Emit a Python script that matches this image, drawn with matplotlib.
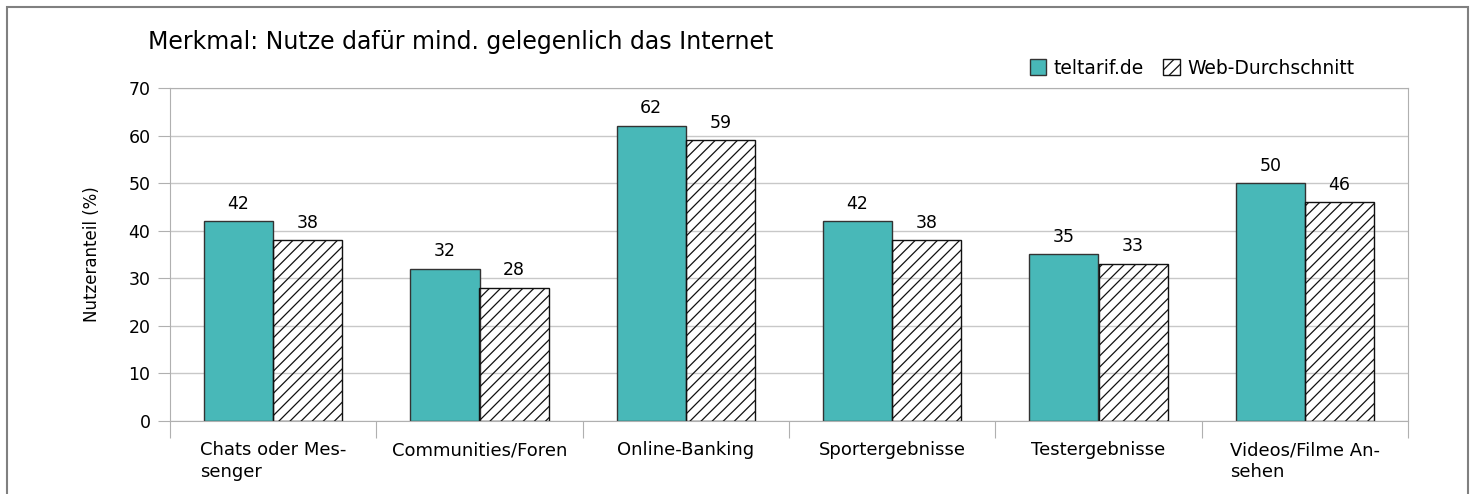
import numpy as np
import matplotlib
matplotlib.use('Agg')
import matplotlib.pyplot as plt
from matplotlib.patches import Rectangle

# Daten
kategorien = ['Chats oder Mes-\nsenger', 'Communities/Foren', 'Online-Banking',
              'Sportergebnisse', 'Testergebnisse', 'Videos/Filme An-\nsehen']
teltarif = [42, 32, 62, 42, 35, 50]
web_schnitt = [38, 28, 59, 38, 33, 46]
serien_namen = ['teltarif.de', 'Web-Durchschnitt']
y_ticks = [0, 10, 20, 30, 40, 50, 60, 70]

plt.rcParams['font.family'] = ['DejaVu Sans']
plt.rcParams['hatch.linewidth'] = 0.9

fig = plt.figure(figsize=(14.75, 4.94), dpi=100)
ax = fig.add_axes([170 / 1475, 1 - 421 / 494, 1238 / 1475, 333 / 494])

# Rahmen um die ganze Grafik
fig.patches.append(Rectangle((7 / 1475, -0.05), 1461 / 1475, 1.05 - 7 / 494,
                             transform=fig.transFigure, fill=False,
                             edgecolor='#808080', linewidth=1.5))

x = np.arange(len(kategorien))
b = 0.335
ax.bar(x - b / 2, teltarif, b, color='#48B8B8', edgecolor='#333333',
       linewidth=1, label=serien_namen[0], zorder=2)
ax.bar(x + b / 2, web_schnitt, b, facecolor='none', edgecolor='#111111',
       hatch='///', linewidth=1, label=serien_namen[1], zorder=2)

for xi, v in zip(x, teltarif):
    ax.text(xi - b / 2, v + 1.8, str(v), ha='center', va='bottom', fontsize=12.5)
for xi, v in zip(x, web_schnitt):
    ax.text(xi + b / 2, v + 1.8, str(v), ha='center', va='bottom', fontsize=12.5)

ax.set_xlim(-0.5, len(kategorien) - 0.5)
ax.set_ylim(0, 70)
ax.set_yticks(y_ticks)
ax.tick_params(axis='y', labelsize=12.5, length=9, color='#b0b0b0', pad=5)
ax.yaxis.grid(True, color='#c8c8c8', linewidth=1, zorder=0)
ax.set_axisbelow(True)

# Kategorie-Trennstriche
ax.set_xticks(np.arange(-0.5, len(kategorien)), minor=False)
ax.set_xticklabels([])
ax.tick_params(axis='x', length=12, color='#b0b0b0')
for xi, lab in zip(x, kategorien):
    ax.text(xi, -4.3, lab, ha='center', va='top', multialignment='left',
            fontsize=13, linespacing=1.25)

for s in ax.spines.values():
    s.set_color('#b0b0b0')
ax.set_ylabel('Nutzeranteil (%)', fontsize=12, labelpad=20)

fig.text(148 / 1475, 1 - 42 / 494, 'Merkmal: Nutze dafür mind. gelegenlich das Internet',
         fontsize=17, va='center', ha='left')

fig.legend(loc='center left', bbox_to_anchor=(1022 / 1475, 1 - 68 / 494), ncol=2,
           frameon=False, fontsize=13.5, handlelength=0.9, handleheight=0.9,
           handletextpad=0.4, columnspacing=1.0, borderaxespad=0)

fig.savefig('out.png', dpi=100)
